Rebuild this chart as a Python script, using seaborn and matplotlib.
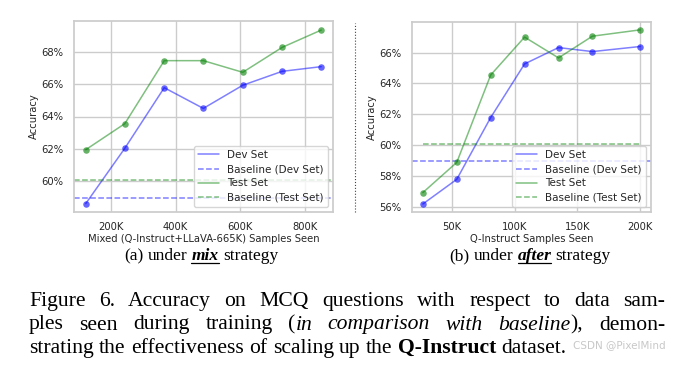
import matplotlib
matplotlib.use("Agg")
import matplotlib.pyplot as plt
from matplotlib.lines import Line2D
from matplotlib.ticker import FuncFormatter, MultipleLocator
import seaborn as sns

# (a) mix strategy
MIX_SAMPLES = [122_000, 243_000, 365_000, 486_000, 608_000, 730_000, 851_000]
MIX_DEV = [58.62, 62.04, 65.78, 64.50, 65.93, 66.79, 67.08]
MIX_TEST = [61.95, 63.56, 67.45, 67.45, 66.73, 68.27, 69.34]

# (b) after strategy
AFTER_SAMPLES = [27_000, 54_000, 81_000, 108_000, 135_000, 162_000, 200_000]
AFTER_DEV = [56.17, 57.77, 61.78, 65.26, 66.32, 66.06, 66.39]
AFTER_TEST = [56.91, 58.87, 64.54, 67.00, 65.65, 67.06, 67.47]

BASE_DEV = 58.97
BASE_TEST = 60.09

SUB_A = [("(a) under ", "n"), ("mix", "u"), (" strategy", "n")]
SUB_B = [("(b) under ", "n"), ("after", "u"), (" strategy", "n")]
CAPTION = [
    [("Figure 6.  Accuracy on MCQ questions with respect to data sam-", "n")],
    [("ples seen during training (", "n"), ("in comparison with baseline", "i"), ("), demon-", "n")],
    [("strating the effectiveness of scaling up the ", "n"), ("Q-Instruct", "b"), (" dataset.", "n")],
]

sns.set_theme(style="whitegrid")
plt.rcParams["font.family"] = ["DejaVu Sans"]

W, H = 685, 380
fig = plt.figure(figsize=(W / 100, H / 100), dpi=100)
STYLE = {"n": {}, "i": {"style": "italic"}, "b": {"weight": "bold"},
         "u": {"style": "italic", "weight": "bold"}}


def draw_panel(ax, samples, dev, test, xstep, xlabel, full_test_base):
    sns.lineplot(x=samples, y=dev, ax=ax, color="blue", alpha=0.5, lw=1.1, label="Dev Set")
    ax.scatter(samples, dev, color="blue", alpha=0.6, s=22, lw=0, zorder=3)
    ax.axhline(BASE_DEV, color="blue", alpha=0.5, lw=1.1, ls="--", label="Baseline (Dev Set)")
    sns.lineplot(x=samples, y=test, ax=ax, color="green", alpha=0.5, lw=1.1, label="Test Set")
    ax.scatter(samples, test, color="green", alpha=0.6, s=22, lw=0, zorder=3)
    if full_test_base:
        ax.axhline(BASE_TEST, color="green", alpha=0.5, lw=1.1, ls="--", label="Baseline (Test Set)")
    else:
        ax.plot([samples[0], samples[-1]], [BASE_TEST, BASE_TEST], color="green", alpha=0.5,
                lw=1.1, ls="--", label="Baseline (Test Set)")
    ax.xaxis.set_major_locator(MultipleLocator(xstep))
    ax.yaxis.set_major_locator(MultipleLocator(2))
    ax.xaxis.set_major_formatter(FuncFormatter(lambda v, _: f"{v / 1000:.0f}K"))
    ax.yaxis.set_major_formatter(FuncFormatter(lambda v, _: f"{v:.0f}%"))
    ax.tick_params(labelsize=7.2, pad=1.5)
    ax.set_xlabel(xlabel, fontsize=7.2, labelpad=1)
    ax.set_ylabel("Accuracy", fontsize=7.2, labelpad=2)
    ax.legend(loc="lower right", fontsize=7.5, labelspacing=0.4)


def place_runs(runs, y, x0=None, x1=None, center=None, size=12.5):
    r = fig.canvas.get_renderer()
    words, cur = [], []
    for text, st in runs:
        for i, p in enumerate(text.split(" ")):
            if i > 0 and cur:
                words.append(cur)
                cur = []
            if p:
                cur.append((p, st))
    if cur:
        words.append(cur)
    yf = 1 - y / H
    items = []
    for wd in words:
        pieces = []
        for p, st in wd:
            t = fig.text(0, yf, p, fontsize=size, family="Liberation Serif", va="baseline",
                         color="black", **STYLE[st])
            pieces.append((t, t.get_window_extent(r).width, st))
        items.append(pieces)
    probe = [fig.text(0, 0, s, fontsize=size, family="Liberation Serif") for s in ("a a", "aa")]
    space = probe[0].get_window_extent(r).width - probe[1].get_window_extent(r).width
    for t in probe:
        t.remove()
    widths = [sum(w for _, w, _ in pc) for pc in items]
    natural = sum(widths) + space * (len(items) - 1)
    gap = space
    if center is not None:
        x0 = center - natural / 2
    elif x1 is not None:
        gap = (x1 - x0 - sum(widths)) / (len(items) - 1)
    x = x0
    for pc, ww in zip(items, widths):
        px = x
        for t, w, st in pc:
            t.set_position((px / W, yf))
            if st == "u":
                fig.add_artist(Line2D([px / W, (px + w) / W], [yf - 2.2 / H] * 2,
                                      color="black", lw=0.9))
            px += w
        x += ww + gap


ax1 = fig.add_axes([74 / W, 1 - 212 / H, 259 / W, 191 / H])
ax2 = fig.add_axes([412 / W, 1 - 212 / H, 239 / W, 190 / H])
draw_panel(ax1, MIX_SAMPLES, MIX_DEV, MIX_TEST, 200_000,
           "Mixed (Q-Instruct+LLaVA-665K) Samples Seen", True)
draw_panel(ax2, AFTER_SAMPLES, AFTER_DEV, AFTER_TEST, 50_000,
           "Q-Instruct Samples Seen", False)
ax1.set_ylim(58.1, 69.9)
ax2.set_ylim(55.65, 67.98)

fig.add_artist(Line2D([355 / W, 355 / W], [1 - 212 / H, 1 - 23 / H],
                      color="#444444", lw=0.8, ls=":"))

place_runs(SUB_A, 260.5, center=201)
place_runs(SUB_B, 260.5, center=530)
place_runs(CAPTION[0], 306, x0=29, x1=665, size=15.6)
place_runs(CAPTION[1], 329.5, x0=29, x1=665, size=15.6)
place_runs(CAPTION[2], 353, x0=29, size=15.6)
fig.text(573 / W, 1 - 348 / H, "CSDN @PixelMind", fontsize=7.5, color="#c8c8c8")

fig.savefig("out.png", dpi=100)
